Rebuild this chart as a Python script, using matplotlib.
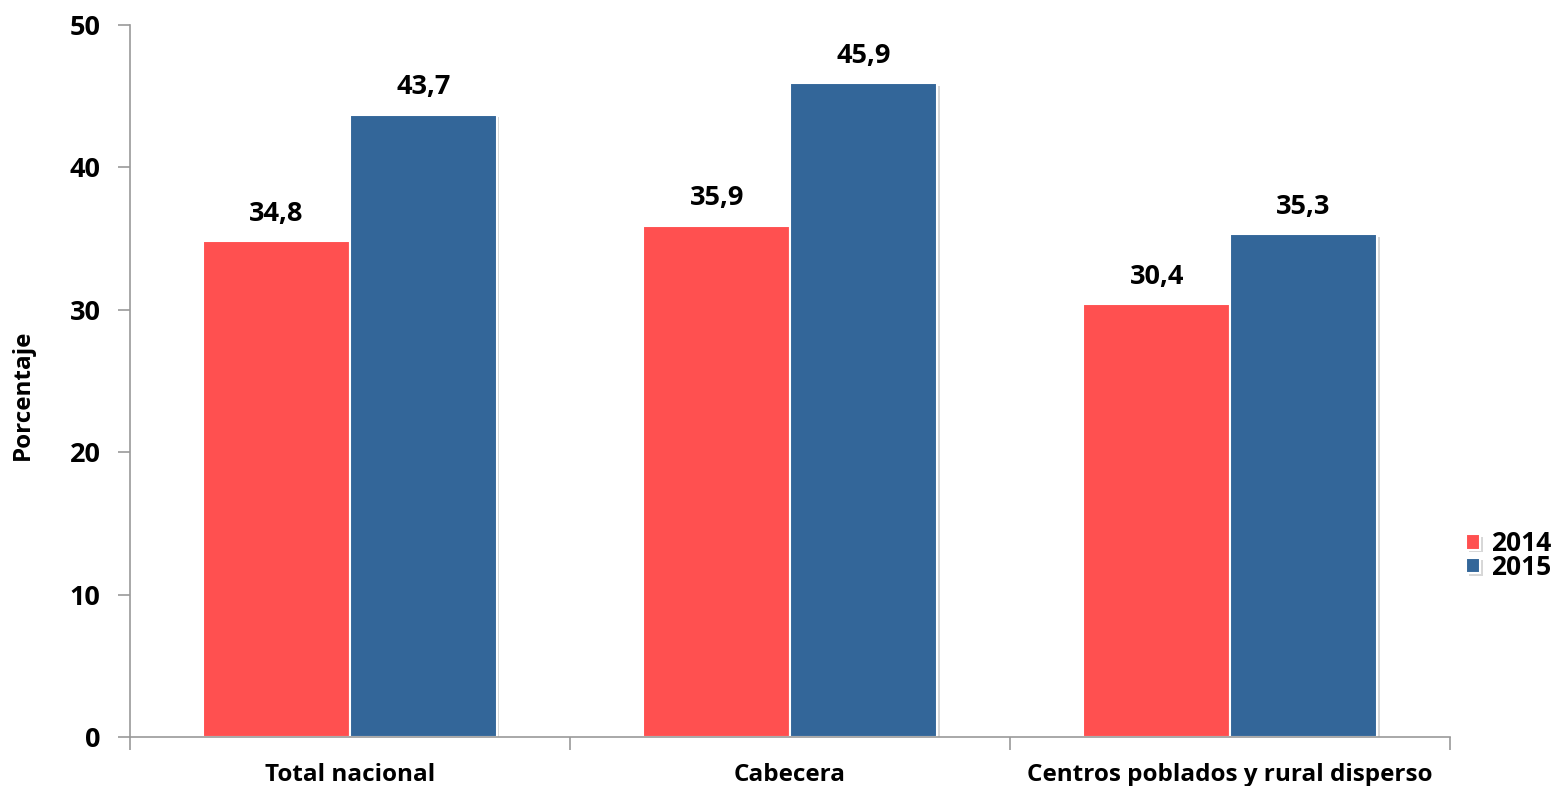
import numpy as np
import matplotlib.pyplot as plt
import matplotlib.patheffects as pe

categories = ["Total nacional", "Cabecera", "Centros poblados y rural disperso"]
years = ["2014", "2015"]
vals_2014 = [34.8, 35.9, 30.4]
vals_2015 = [43.7, 45.9, 35.3]
colors = ["#FF5050", "#336699"]

plt.rcParams['font.family'] = ['Open Sans', 'DejaVu Sans']
plt.rcParams['font.weight'] = 'bold'

fig = plt.figure(figsize=(15.66, 7.86), dpi=100)
ax = fig.add_axes([0.083, 0.0623, 0.843, 0.906])

x = np.arange(len(categories))
w = 1/3
shadow = [pe.SimplePatchShadow(offset=(2, -2), shadow_rgbFace="#b0b0b0", alpha=0.5), pe.Normal()]
for k, (vals, yr) in enumerate([(vals_2014, years[0]), (vals_2015, years[1])]):
    bars = ax.bar(x + (k - 0.5) * w, vals, w, color=colors[k], edgecolor="white",
                  linewidth=1.5, label=yr, path_effects=shadow, zorder=2)
    for b, v in zip(bars, vals):
        ax.text(b.get_x() + b.get_width() / 2, v + 1.0, f"{v:.1f}".replace(".", ","),
                ha="center", va="bottom", fontsize=19.5, fontweight="bold")

ax.set_xlim(-0.5, len(categories) - 0.5)
ax.set_ylim(0, 50)
ax.set_yticks(range(0, 51, 10))
ax.set_xticks(np.arange(-0.5, len(categories), 1))
ax.set_xticklabels([])
ax.set_xticks(x, minor=True)
ax.set_xticklabels(categories, minor=True, fontweight="bold")
ax.tick_params(axis="x", which="minor", length=0, pad=19, labelsize=17.5)
ax.tick_params(axis="x", which="major", length=9, color="#999999", width=1.2)
ax.tick_params(axis="y", length=9, color="#999999", width=1.2, labelsize=19.5, pad=12)
for lbl in ax.get_yticklabels():
    lbl.set_fontweight("bold")
for s in ["top", "right"]:
    ax.spines[s].set_visible(False)
for s in ["left", "bottom"]:
    ax.spines[s].set_color("#999999")
    ax.spines[s].set_linewidth(1.2)
ax.set_ylabel("Porcentaje", fontsize=17.5, fontweight="bold")
ax.yaxis.set_label_coords(-0.083 + 14 / 1320, 0.48)

leg = ax.legend(loc="center left", bbox_to_anchor=(1.012, 0.255), frameon=False,
                prop={"size": 19, "weight": "bold"}, borderpad=0, borderaxespad=0,
                handlelength=0.55, handleheight=0.55, handletextpad=0.4, labelspacing=-0.12)

fig.savefig("out.png", dpi=100)
